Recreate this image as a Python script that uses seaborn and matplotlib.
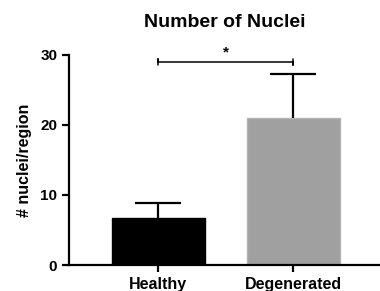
import pandas as pd
import seaborn as sns
import matplotlib.pyplot as plt

# valores
grupos = ["Healthy", "Degenerated"]
medias = [6.7, 21.0]
erros = [2.15, 6.3]
cores = ["#000000", "#a0a0a0"]
bordas = ["#000000", "#b4b4b4"]

df = pd.DataFrame({"Grupo": grupos, "Nucleos": medias})

sns.set_style("ticks", {"axes.edgecolor": "black", "text.color": "black",
                        "xtick.color": "black", "ytick.color": "black",
                        "axes.labelcolor": "black"})
plt.rcParams["font.family"] = ["Liberation Sans", "DejaVu Sans"]
plt.rcParams["font.weight"] = "bold"

fig = plt.figure(figsize=(3.8, 2.91), dpi=100)
ax = fig.add_axes([0.1816, 0.0893, 0.8184, 0.722])

sns.barplot(data=df, x="Grupo", y="Nucleos", hue="Grupo", palette=cores,
            width=0.69, ax=ax, legend=False, errorbar=None, linewidth=1)
for p, b in zip(ax.patches, bordas):
    p.set_edgecolor(b)

# barras de erro só para cima
topos = [m + e for m, e in zip(medias, erros)]
x = list(range(len(grupos)))
ax.vlines(x, medias, topos, color="black", lw=1.6)
ax.hlines(topos, [i - 0.17 for i in x], [i + 0.17 for i in x], color="black", lw=1.6)

# barra de significância
ax.plot([0, 0, 0, 1, 1, 1], [28.6, 29.4, 29, 29, 28.6, 29.4], color="black",
        lw=1.1, clip_on=False)
ax.text(0.5, 29.3, "*", ha="center", va="bottom", fontsize=11, fontweight="bold")

ax.set_xlim(-0.66, 1.64)
ax.set_ylim(0, 30)
ax.set_yticks([0, 10, 20, 30])
ax.set_xlabel("")
ax.set_ylabel("# nuclei/region", fontsize=11.5, fontweight="bold", labelpad=6)
ax.set_title("Number of Nuclei", fontsize=14, fontweight="bold", pad=20)

sns.despine(ax=ax)
for s in ["left", "bottom"]:
    ax.spines[s].set_linewidth(1.6)
ax.tick_params(width=1.6, length=5)
ax.tick_params(axis="x", labelsize=11.5)
ax.tick_params(axis="y", labelsize=11)
for lab in ax.get_xticklabels() + ax.get_yticklabels():
    lab.set_fontweight("bold")

fig.savefig("out.png", dpi=100)
